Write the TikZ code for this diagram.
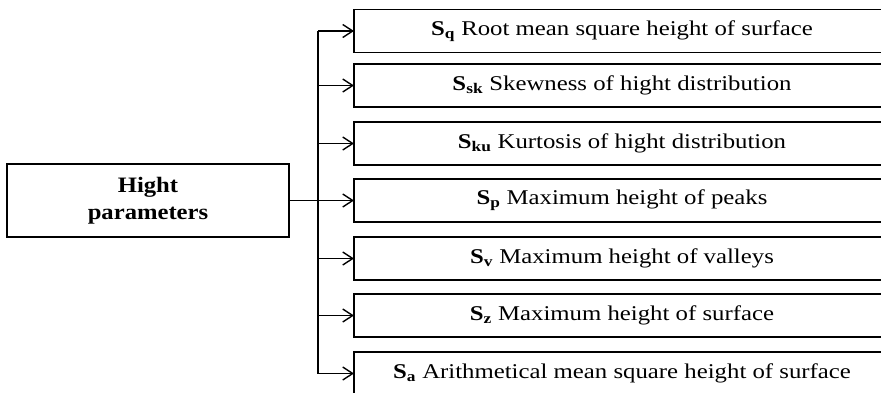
\documentclass[tikz,border=0pt]{standalone}
\usepackage{fontspec}
\setmainfont{Liberation Serif}
\newfontfamily\itemfont[FakeStretch=1.18]{Liberation Serif}
\newfontfamily\headfont[FakeStretch=1.12]{Liberation Serif}
\usetikzlibrary{arrows.meta}
\begin{document}
\begin{tikzpicture}[x=1pt,y=-1pt,
  every node/.style={inner sep=0pt, outer sep=0pt},
  parambox/.style={draw, line width=1.6pt, minimum width=536pt, minimum height=43pt,
    anchor=north west, font=\itemfont\fontsize{21}{24}\selectfont},
  rootbox/.style={draw, line width=1.6pt, minimum width=282pt, minimum height=73pt,
    anchor=north west, align=center, font=\headfont\fontsize{22}{27}\selectfont\bfseries},
  link/.style={line width=1.4pt},
  feed/.style={line width=1.4pt, -{Straight Barb[length=10pt,width=13pt,line width=1.4pt]}}]
\useasboundingbox (0,0) rectangle (881,392);
\clip (0,0) rectangle (881,392);
\node[rootbox] (root) at (7,164) {Hight\\parameters};
\node[parambox] (b1) at (354,9.5) {\textbf{S\textsubscript{q}} Root mean square height of surface};
\node[parambox] (b2) at (354,64) {\textbf{S\textsubscript{sk}} Skewness of hight distribution};
\node[parambox] (b3) at (354,122) {\textbf{S\textsubscript{ku}} Kurtosis of hight distribution};
\node[parambox] (b4) at (354,179) {\textbf{S\textsubscript{p}} Maximum height of peaks};
\node[parambox] (b5) at (354,237) {\textbf{S\textsubscript{v}} Maximum height of valleys};
\node[parambox] (b6) at (354,294) {\textbf{S\textsubscript{z}} Maximum height of surface};
\node[parambox] (b7) at (354,352) {\textbf{S\textsubscript{a}} Arithmetical mean square height of surface};
% vertical trunk
\coordinate (top) at (318,0 |- b1.west);
\coordinate (bot) at (318,0 |- b7.west);
\draw[link] (top) -- (bot);
% branches into each parameter box
\foreach \b in {b1,b2,b3,b5,b6,b7}{
  \draw[feed] (top |- \b.west) -- (\b.west);
}
\draw[feed] (root.east) -- (b4.west);
\end{tikzpicture}
\end{document}
